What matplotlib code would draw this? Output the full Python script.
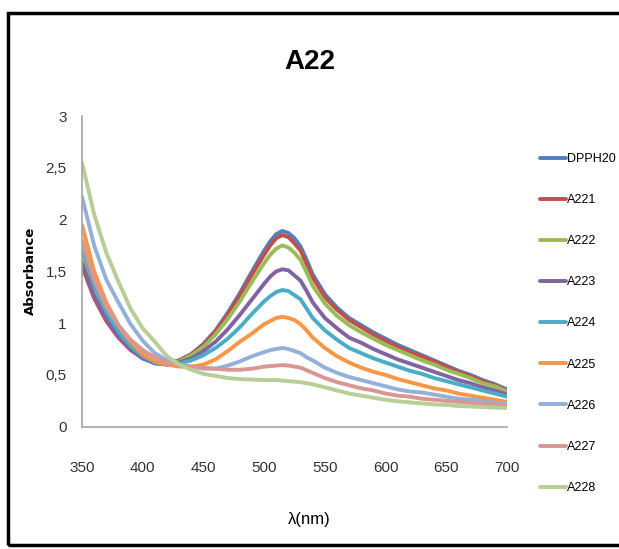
import numpy as np
import matplotlib
matplotlib.use("Agg")
import matplotlib.pyplot as plt
from matplotlib.patches import Rectangle

wavelength = [350, 360, 370, 380, 390, 400, 410, 420, 430, 440,
              450, 460, 470, 480, 490, 500, 505, 510, 515, 520, 525, 530, 535, 540,
              550, 560, 570, 580, 590, 600, 610, 620, 630, 640,
              650, 660, 670, 680, 690, 700]

dpph20 = [1.62, 1.28, 1.05, 0.88, 0.76, 0.67, 0.62, 0.61, 0.64, 0.70,
          0.80, 0.93, 1.10, 1.29, 1.50, 1.70, 1.79, 1.86, 1.89, 1.87, 1.82, 1.74, 1.61, 1.47,
          1.28, 1.15, 1.05, 0.98, 0.91, 0.85, 0.79, 0.74, 0.69, 0.64,
          0.59, 0.54, 0.50, 0.45, 0.41, 0.36]
a221 = [1.55, 1.24, 1.02, 0.86, 0.74, 0.66, 0.62, 0.61, 0.64, 0.70,
        0.79, 0.92, 1.08, 1.27, 1.47, 1.66, 1.75, 1.82, 1.85, 1.83, 1.77, 1.70, 1.57, 1.44,
        1.25, 1.13, 1.03, 0.96, 0.89, 0.83, 0.77, 0.72, 0.68, 0.63,
        0.58, 0.53, 0.49, 0.44, 0.40, 0.35]
a222 = [1.68, 1.32, 1.07, 0.89, 0.76, 0.67, 0.62, 0.61, 0.63, 0.69,
        0.77, 0.89, 1.04, 1.21, 1.40, 1.58, 1.66, 1.72, 1.75, 1.73, 1.68, 1.61, 1.49, 1.36,
        1.19, 1.07, 0.98, 0.91, 0.85, 0.79, 0.74, 0.69, 0.64, 0.60,
        0.55, 0.51, 0.47, 0.42, 0.39, 0.34]
a223 = [1.58, 1.26, 1.04, 0.87, 0.75, 0.66, 0.61, 0.60, 0.62, 0.66,
        0.73, 0.82, 0.94, 1.08, 1.23, 1.38, 1.45, 1.50, 1.52, 1.51, 1.46, 1.41, 1.31, 1.20,
        1.05, 0.95, 0.86, 0.81, 0.75, 0.70, 0.65, 0.61, 0.57, 0.53,
        0.49, 0.45, 0.42, 0.38, 0.35, 0.31]
a224 = [1.75, 1.37, 1.11, 0.92, 0.78, 0.68, 0.62, 0.60, 0.61, 0.64,
        0.69, 0.76, 0.85, 0.96, 1.09, 1.21, 1.26, 1.30, 1.32, 1.31, 1.27, 1.23, 1.14, 1.05,
        0.93, 0.84, 0.76, 0.71, 0.66, 0.62, 0.58, 0.54, 0.51, 0.47,
        0.44, 0.41, 0.38, 0.35, 0.32, 0.29]
a225 = [1.95, 1.50, 1.20, 0.98, 0.82, 0.70, 0.63, 0.60, 0.58, 0.58,
        0.60, 0.65, 0.73, 0.82, 0.90, 0.99, 1.02, 1.05, 1.06, 1.05, 1.03, 0.99, 0.93, 0.86,
        0.76, 0.68, 0.62, 0.57, 0.53, 0.50, 0.46, 0.43, 0.40, 0.37,
        0.35, 0.32, 0.30, 0.28, 0.26, 0.24]
a226 = [2.22, 1.75, 1.42, 1.20, 0.99, 0.83, 0.71, 0.64, 0.60, 0.58,
        0.56, 0.56, 0.59, 0.63, 0.68, 0.72, 0.74, 0.75, 0.76, 0.75, 0.73, 0.71, 0.67, 0.64,
        0.57, 0.52, 0.48, 0.45, 0.42, 0.39, 0.36, 0.34, 0.33, 0.31,
        0.29, 0.27, 0.26, 0.25, 0.23, 0.22]
a227 = [1.80, 1.42, 1.16, 0.98, 0.84, 0.74, 0.67, 0.62, 0.59, 0.58,
        0.57, 0.56, 0.55, 0.55, 0.56, 0.58, 0.585, 0.59, 0.595, 0.59, 0.58, 0.57, 0.545, 0.52,
        0.47, 0.43, 0.40, 0.37, 0.35, 0.32, 0.30, 0.29, 0.27, 0.26,
        0.25, 0.24, 0.23, 0.22, 0.21, 0.20]
a228 = [2.55, 2.05, 1.68, 1.40, 1.14, 0.95, 0.82, 0.68, 0.60, 0.55,
        0.51, 0.49, 0.47, 0.46, 0.455, 0.45, 0.45, 0.45, 0.445, 0.44, 0.435, 0.43, 0.42, 0.41,
        0.38, 0.35, 0.32, 0.30, 0.28, 0.26, 0.245, 0.235, 0.225, 0.215,
        0.21, 0.20, 0.195, 0.19, 0.185, 0.18]

series_names = ["DPPH20", "A221", "A222", "A223", "A224", "A225", "A226", "A227", "A228"]
series = [dpph20, a221, a222, a223, a224, a225, a226, a227, a228]
colors = ["#4F81BD", "#C0504D", "#9BBB59", "#8064A2", "#4BACC6",
          "#F79646", "#95B0D8", "#D99694", "#B7CE95"]

yticks = [0, 0.5, 1, 1.5, 2, 2.5, 3]
ytick_labels = ["0", "0,5", "1", "1,5", "2", "2,5", "3"]
xticks = [350, 400, 450, 500, 550, 600, 650, 700]

narrow = ["Liberation Sans Narrow", "Liberation Sans", "DejaVu Sans"]

fig = plt.figure(figsize=(6.19, 5.49), dpi=100)
fig.patch.set_facecolor("white")

# outer chart frame
fig.patches.append(Rectangle((8 / 619, 4 / 549), 1.2, 1 - 17 / 549,
                             transform=fig.transFigure, fill=False,
                             edgecolor="black", linewidth=2.5))

ax = fig.add_axes([82 / 619, 1 - 426.7 / 549, 425 / 619, 310.7 / 549])
for name, vals, c in zip(series_names, series, colors):
    ax.plot(wavelength, vals, color=c, lw=2.8, label=name,
            solid_capstyle="round", solid_joinstyle="round")

ax.set_xlim(350, 700)
ax.set_ylim(0, 3)
ax.set_xticks(xticks)
ax.set_xticklabels([str(x) for x in xticks], family=narrow, fontsize=11, color="#333333")
ax.set_yticks(yticks)
ax.set_yticklabels(ytick_labels, family=narrow, fontsize=11, color="#333333")
ax.tick_params(axis="both", length=0)
ax.tick_params(axis="x", pad=25)
ax.tick_params(axis="y", pad=11)
for s in ["top", "right"]:
    ax.spines[s].set_visible(False)
for s in ["left", "bottom"]:
    ax.spines[s].set_color("#A6A6A6")
    ax.spines[s].set_linewidth(1.2)

ax.set_ylabel("Absorbance", fontsize=9.5, fontweight="bold")
ax.yaxis.set_label_coords(-0.105, 0.5)
ax.set_xlabel("λ(nm)", family=narrow, fontsize=12)
ax.xaxis.set_label_coords(0.535, -0.275)

fig.text(310 / 619, 1 - 62 / 549, "A22", family=narrow, fontsize=20,
         fontweight="bold", ha="center", va="center")

fig.legend(loc="upper left", bbox_to_anchor=(535 / 619, 1 - 148 / 549),
           frameon=False, prop={"family": narrow, "size": 9},
           handlelength=2.1, handletextpad=0.05, labelspacing=2.33,
           borderaxespad=0)

fig.savefig("out.png", dpi=100)
